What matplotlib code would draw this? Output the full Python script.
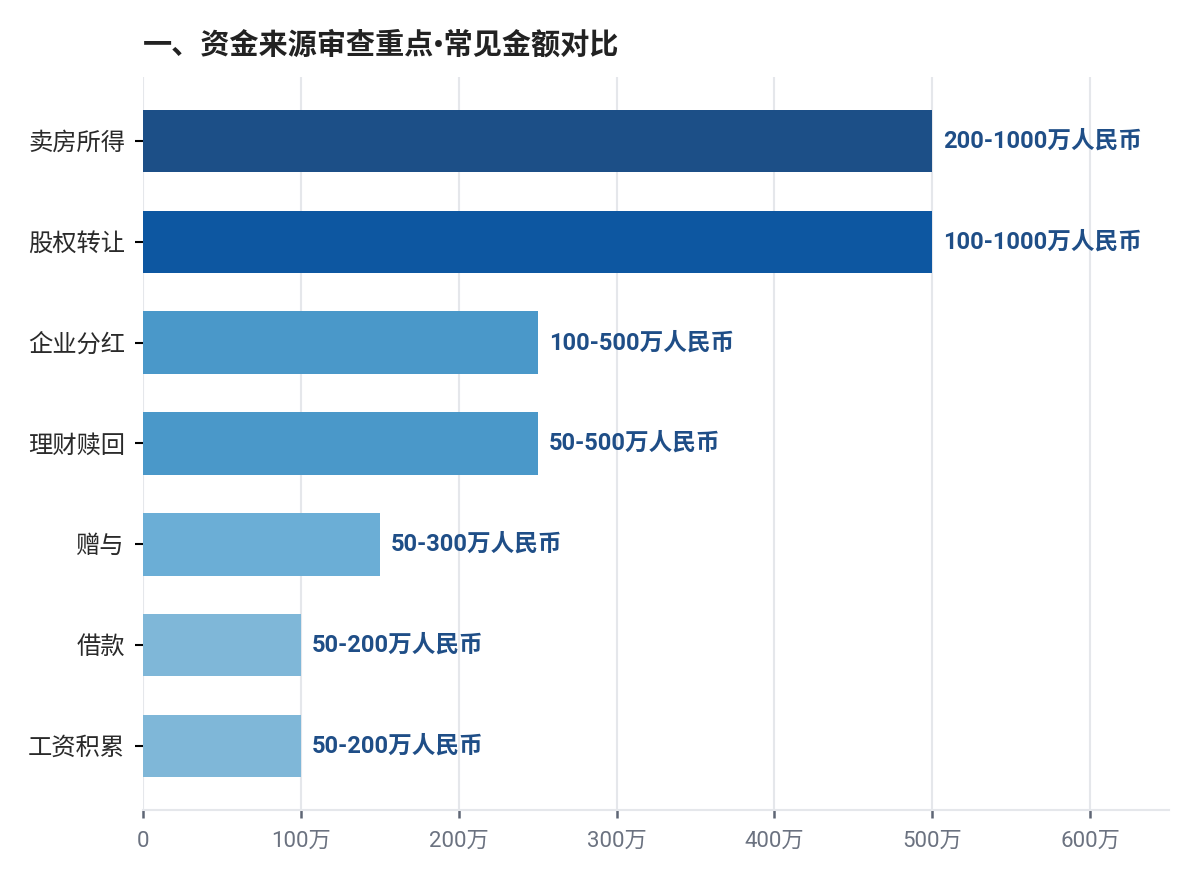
import matplotlib
matplotlib.use("Agg")
import matplotlib.pyplot as plt
from matplotlib.ticker import FuncFormatter

FAM = ['Roboto', 'Noto Sans CJK SC', 'DejaVu Sans']
plt.rcParams['font.family'] = FAM

categories = ["卖房所得", "股权转让", "企业分红", "理财赎回", "赠与", "借款", "工资积累"]
values = [500, 500, 250, 250, 150, 100, 100]
range_labels = ["200-1000万人民币", "100-1000万人民币", "100-500万人民币", "50-500万人民币",
                "50-300万人民币", "50-200万人民币", "50-200万人民币"]
colors = ["#1c4f87", "#0d57a1", "#4a98c9", "#4a98c9", "#6baed6", "#7fb7d8", "#7fb7d8"]
xticks = [0, 100, 200, 300, 400, 500, 600]
title = "一、资金来源审查重点•常见金额对比"

fig = plt.figure(figsize=(11.96, 8.82), dpi=100)
ax = fig.add_axes([143/1196, 1-810/882, (1169-143)/1196, (810-77)/882])

ypos = list(range(len(categories)))
ax.barh(ypos, values, height=0.62, color=colors, zorder=3)
for y, v, lab in zip(ypos, values, range_labels):
    ax.annotate(lab, (v, y), xytext=(8, 0), textcoords='offset points',
                va='center', ha='left', fontsize=17, fontweight='bold',
                color='#1f4e87', zorder=4)

ax.set_yticks(ypos)
ax.set_yticklabels(categories, fontsize=17.5, color='#2a2a2a')
ax.set_ylim(6.635, -0.635)
ax.set_xlim(0, 650)
ax.set_xticks(xticks)
ax.xaxis.set_major_formatter(FuncFormatter(lambda v, p: "0" if v == 0 else f"{int(v)}万"))
ax.tick_params(axis='x', colors='#5f6675', labelcolor='#6b7280', labelsize=16,
               length=6, width=1.8, pad=9)
ax.tick_params(axis='y', colors='#000000', labelcolor='#2a2a2a', length=6, width=1.5, pad=7)

ax.grid(axis='x', color='#e5e7eb', linewidth=1.5, zorder=0)
ax.set_axisbelow(True)
for s in ['top', 'right', 'left']:
    ax.spines[s].set_visible(False)
ax.spines['bottom'].set_color('#e5e7eb')
ax.spines['bottom'].set_linewidth(1.5)

fig.text(143/1196, 1-45/882, title, fontsize=21, fontweight='bold', color='#222222',
         ha='left', va='center')

fig.savefig("out.png", dpi=100)
